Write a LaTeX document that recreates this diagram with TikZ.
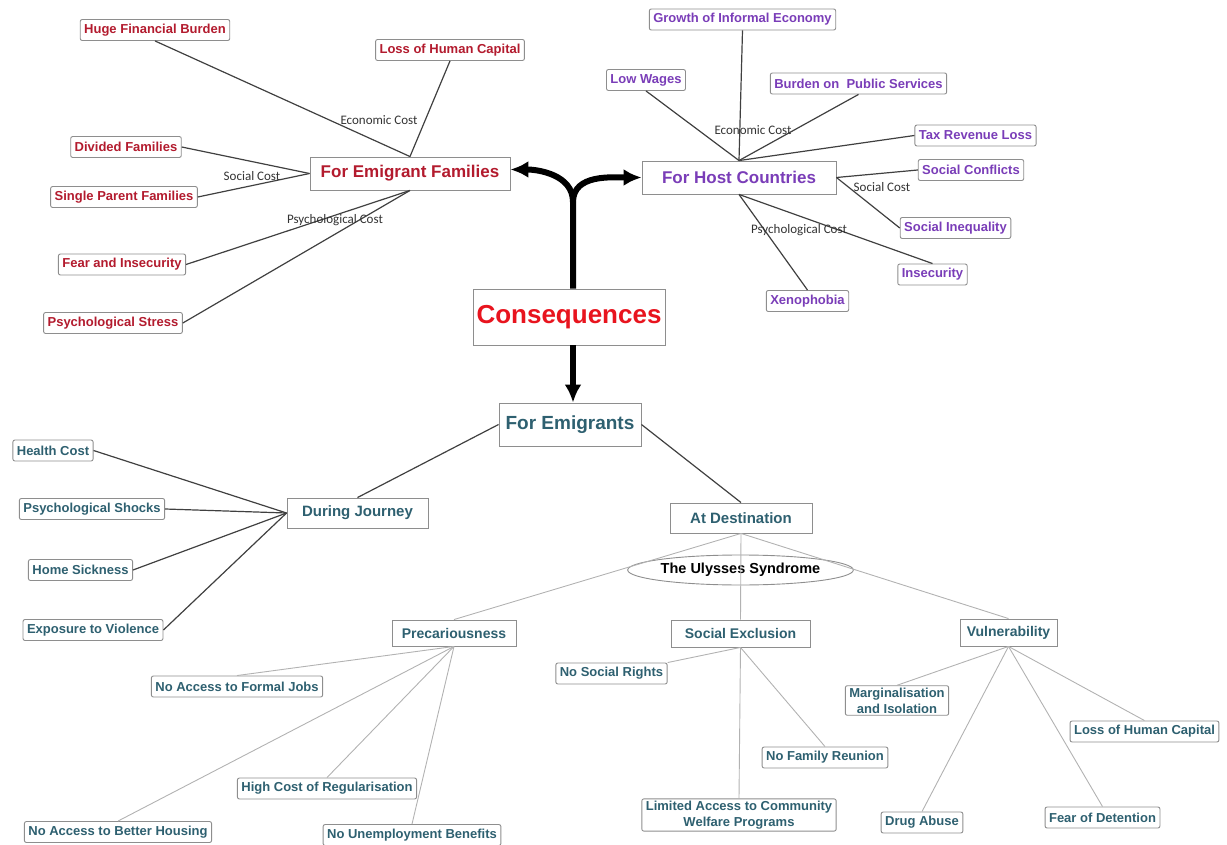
\documentclass[tikz,border=0pt]{standalone}
\usepackage{fontspec}
\setmainfont{Liberation Sans}
\newfontfamily\costfont{Carlito}
\usetikzlibrary{shapes, arrows.meta, positioning}
\definecolor{famred}{HTML}{B31B2E}
\definecolor{hostpurple}{HTML}{7A3DB8}
\definecolor{emiteal}{HTML}{2E6070}
\definecolor{consred}{HTML}{E8141E}
\definecolor{boxgray}{HTML}{8E8E8E}
\tikzstyle{leaf} = [draw=boxgray, line width=0.9pt, fill=white, rectangle, rounded corners=2pt, font=\bfseries\fontsize{13}{16}\selectfont, inner xsep=4pt, inner ysep=2pt, minimum height=21pt, align=center]
\tikzstyle{hub} = [draw=boxgray, line width=0.9pt, fill=white, rectangle, font=\bfseries]
\tikzstyle{cost} = [font=\costfont\fontsize{13}{14}\selectfont, text=black!80, inner sep=1pt]
\tikzstyle{link} = [draw=black!75, line width=1.2pt]
\tikzstyle{faintlink} = [draw=black!30, line width=0.9pt]
\tikzstyle{bigarrow} = [draw=black, line width=6pt, -{Latex[length=18pt,width=17pt]}]
\newcommand{\hubfont}[1]{\fontsize{#1}{#1}\selectfont}

\begin{document}
\begin{tikzpicture}[x=1pt, y=-1pt]
    \useasboundingbox (0,0) rectangle (1227,845);
    % centre
    \node[hub, text=consred, minimum width=192pt, minimum height=56pt, font=\bfseries\hubfont{26}] (cons) at (569,317) {Consequences};
    \coordinate (fork) at (573,202);

    % for emigrant families
    \node[hub, text=famred, minimum width=200pt, minimum height=33pt, font=\bfseries\hubfont{17}] (fef) at (410,173.5) {For Emigrant Families};
    \node[leaf, text=famred] (hfb) at (155,30) {Huge Financial Burden};
    \node[leaf, text=famred] (lhcF) at (450,50) {Loss of Human Capital};
    \node[leaf, text=famred] (dfam) at (126,147) {Divided Families};
    \node[leaf, text=famred] (spf) at (124,197) {Single Parent Families};
    \node[leaf, text=famred] (fis) at (122,264.5) {Fear and Insecurity};
    \node[leaf, text=famred] (pst) at (113,323) {Psychological Stress};
    \draw[link] (fef.north) -- (hfb.south);
    \draw[link] (fef.north) -- (lhcF.south);
    \draw[link] (fef.west) -- (dfam.east);
    \draw[link] (fef.west) -- (spf.east);
    \draw[link] (fef.south) -- (fis.east);
    \draw[link] (fef.south) -- (pst.east);
    \node[cost] (ecoF) at (379,120) {Economic Cost};
    \node[cost] (socF) at (252,176) {Social Cost};
    \node[cost] (psyF) at (335,220) {Psychological Cost};

    % for host countries
    \node[hub, text=hostpurple, minimum width=194pt, minimum height=33pt, font=\bfseries\hubfont{17}] (fhc) at (739,177.5) {For Host Countries};
    \node[leaf, text=hostpurple] (gie) at (742.5,19.5) {Growth of Informal Economy};
    \node[leaf, text=hostpurple] (lw) at (646,80) {Low Wages};
    \node[leaf, text=hostpurple] (bps) at (858.5,83.5) {Burden on~ Public Services};
    \node[leaf, text=hostpurple] (trl) at (975.5,135.5) {Tax Revenue Loss};
    \node[leaf, text=hostpurple] (scon) at (971,170) {Social Conflicts};
    \node[leaf, text=hostpurple] (sineq) at (955.5,228) {Social Inequality};
    \node[leaf, text=hostpurple] (insec) at (932.5,274.5) {Insecurity};
    \node[leaf, text=hostpurple] (xeno) at (807.5,301) {Xenophobia};
    \draw[link] (fhc.north) -- (lw.south);
    \draw[link] (fhc.north) -- (gie.south);
    \draw[link] (fhc.north) -- (bps.south);
    \draw[link] (fhc.north) -- (trl.west);
    \draw[link] (fhc.east) -- (scon.west);
    \draw[link] (fhc.east) -- (sineq.west);
    \draw[link] (fhc.south) -- (xeno.north);
    \draw[link] (fhc.south) -- (insec.north);
    \node[cost] (ecoH) at (753,130) {Economic Cost};
    \node[cost] (socH) at (882,187) {Social Cost};
    \node[cost] (psyH) at (799,230) {Psychological Cost};

    % for emigrants
    \node[hub, text=emiteal, minimum width=142pt, minimum height=43pt, font=\bfseries\hubfont{19}] (fe) at (570,424.5) {For Emigrants};
    \node[hub, text=emiteal, minimum width=141pt, minimum height=30pt, font=\bfseries\hubfont{15}] (dj) at (357.5,513) {During Journey};
    \node[hub, text=emiteal, minimum width=142pt, minimum height=30pt, font=\bfseries\hubfont{15}] (ad) at (741,518) {At Destination};
    \draw[link] (fe.west) -- (dj.north);
    \draw[link] (fe.east) -- (ad.north);
    \node[leaf, text=emiteal] (hc) at (53,450.5) {Health Cost};
    \node[leaf, text=emiteal] (psh) at (92,509) {Psychological Shocks};
    \node[leaf, text=emiteal] (hs) at (80.5,570) {Home Sickness};
    \node[leaf, text=emiteal] (etv) at (93,630) {Exposure to Violence};
    \draw[link] (dj.west) -- (hc.east);
    \draw[link] (dj.west) -- (psh.east);
    \draw[link] (dj.west) -- (hs.east);
    \draw[link] (dj.west) -- (etv.east);

    % at destination
    \node[draw=boxgray, line width=0.9pt, ellipse, minimum width=193pt, minimum height=30pt, inner sep=0pt, font=\bfseries\hubfont{14.5}] (uly) at (740.5,570) {The Ulysses Syndrome};
    \node[hub, text=emiteal, minimum width=124pt, minimum height=26pt, font=\bfseries\hubfont{14}] (prec) at (454,633) {Precariousness};
    \node[hub, text=emiteal, minimum width=139pt, minimum height=27pt, font=\bfseries\hubfont{14}] (sexc) at (740.5,633.5) {Social Exclusion};
    \node[hub, text=emiteal, minimum width=97pt, minimum height=27pt, font=\bfseries\hubfont{14}] (vuln) at (1008.5,632.5) {Vulnerability};
    \draw[faintlink] (ad.south) -- (prec.north);
    \draw[faintlink] (ad.south) -- (sexc.north);
    \draw[faintlink] (ad.south) -- (vuln.north);

    \node[leaf, text=emiteal] (nafj) at (237,686.5) {No Access to Formal Jobs};
    \node[leaf, text=emiteal] (hcr) at (327,788.5) {High Cost of Regularisation};
    \node[leaf, text=emiteal] (nabh) at (118,832) {No Access to Better Housing};
    \node[leaf, text=emiteal] (nub) at (412,835) {No Unemployment Benefits};
    \draw[faintlink] (prec.south) -- (nafj.north);
    \draw[faintlink] (prec.south) -- (hcr.north);
    \draw[faintlink] (prec.south) -- (nabh.north);
    \draw[faintlink] (prec.south) -- (nub.north);

    \node[leaf, text=emiteal] (nsr) at (611.5,673.5) {No Social Rights};
    \node[leaf, text=emiteal] (nfr) at (825,757.5) {No Family Reunion};
    \node[leaf, text=emiteal] (lacw) at (739,815) {Limited Access to Community\\Welfare Programs};
    \draw[faintlink] (sexc.south) -- (nsr.north east);
    \draw[faintlink] (sexc.south) -- (nfr.north);
    \draw[faintlink] (sexc.south) -- (lacw.north);

    \node[leaf, text=emiteal] (mai) at (897,700.5) {Marginalisation\\and Isolation};
    \node[leaf, text=emiteal] (lhcV) at (1144.5,731.5) {Loss of Human Capital};
    \node[leaf, text=emiteal] (dab) at (922,822.5) {Drug Abuse};
    \node[leaf, text=emiteal] (fod) at (1102.5,817.5) {Fear of Detention};
    \draw[faintlink] (vuln.south) -- (mai.north);
    \draw[faintlink] (vuln.south) -- (lhcV.north);
    \draw[faintlink] (vuln.south) -- (dab.north);
    \draw[faintlink] (vuln.south) -- (fod.north);

    % main arrows
    \draw[bigarrow, line cap=butt] (cons.north -| fork) -- (fork) to[out=90, in=0] ([yshift=4pt]fef.east);
    \draw[bigarrow] (fork) to[out=90, in=180] (fhc.west);
    \draw[bigarrow] (cons.south -| fork) -- (fe.north -| fork);
\end{tikzpicture}
\end{document}
